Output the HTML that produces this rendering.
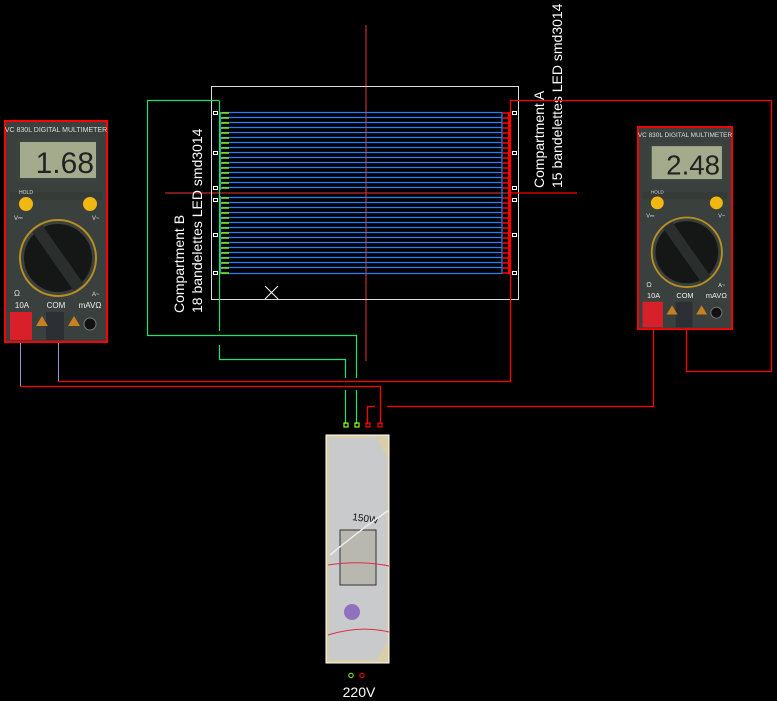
<!DOCTYPE html>
<html><head><meta charset="utf-8"><style>
html,body{margin:0;padding:0;background:#000;width:777px;height:701px;overflow:hidden}
svg{display:block}
text{font-family:"Liberation Sans",sans-serif}
</style></head><body>
<svg width="777" height="701" viewBox="0 0 777 701" xmlns="http://www.w3.org/2000/svg">
<defs>
<g id="meter">
  <rect x="1" y="1" width="102" height="221" fill="#3a403d" stroke="#f00" stroke-width="2"/>
  <text x="52" y="12" font-size="7" fill="#ddd" text-anchor="middle">VC 830L DIGITAL MULTIMETER</text>
  <rect x="12" y="18" width="82" height="44" fill="#3c433e"/>
  <rect x="16" y="22" width="76" height="36" fill="#a4ab8c"/>
  <rect x="6" y="72" width="92" height="8" fill="#363b38"/>
  <circle cx="22" cy="84" r="7" fill="#f0b810"/>
  <circle cx="86" cy="84" r="7" fill="#f0b810"/>
  <text x="22" y="74" font-size="5" fill="#ddd" text-anchor="middle">HOLD</text>
  <circle cx="54" cy="138" r="38" fill="none" stroke="#b89020" stroke-width="2"/>
  <circle cx="54" cy="138" r="34" fill="#151717"/>
  <rect x="48" y="102" width="12" height="72" fill="#2a2e2c" transform="rotate(-35 54 138)"/>
  <text x="10" y="100" font-size="6" fill="#ddd">V⎓</text>
  <text x="88" y="100" font-size="6" fill="#ddd">V~</text>
  <text x="10" y="176" font-size="8" fill="#ddd">Ω</text>
  <text x="88" y="176" font-size="6" fill="#ddd">A~</text>
  <text x="18" y="188" font-size="8" fill="#eee" text-anchor="middle">10A</text>
  <text x="52" y="188" font-size="8" fill="#eee" text-anchor="middle">COM</text>
  <text x="86" y="188" font-size="8" fill="#eee" text-anchor="middle">mAVΩ</text>
  <rect x="6" y="192" width="22" height="28" fill="#d8202a"/>
  <rect x="42" y="192" width="18" height="28" fill="#2c3034"/>
  <polygon points="32,206 38,196 44,206" fill="#c98020"/>
  <polygon points="64,206 70,196 76,206" fill="#c98020"/>
  <circle cx="86" cy="204" r="6" fill="#111" stroke="#777"/>
</g>
</defs>

<g transform="translate(4,120)">
  <use href="#meter"/>
  <text x="90" y="53" font-size="30" fill="#222" text-anchor="end">1.68</text>
</g>
<g transform="translate(637,126) scale(0.923,0.915)">
  <use href="#meter"/>
  <text x="90" y="53" font-size="30" fill="#222" text-anchor="end">2.48</text>
</g>

<line x1="366" y1="25" x2="366" y2="361" stroke="#e33" stroke-width="1"/>
<line x1="165" y1="193" x2="577" y2="193" stroke="#e33" stroke-width="1"/>

<rect x="211.5" y="86.5" width="307" height="213" fill="none" stroke="#ddd" stroke-width="1"/>
<g stroke="#1e82ff" stroke-width="1.3">
<line x1="222" y1="112.5" x2="502" y2="112.5"/><line x1="222" y1="117.5" x2="502" y2="117.5"/><line x1="222" y1="122.5" x2="502" y2="122.5"/><line x1="222" y1="127.5" x2="502" y2="127.5"/><line x1="222" y1="132.5" x2="502" y2="132.5"/><line x1="222" y1="137.5" x2="502" y2="137.5"/><line x1="222" y1="142.5" x2="502" y2="142.5"/><line x1="222" y1="147.5" x2="502" y2="147.5"/><line x1="222" y1="152.5" x2="502" y2="152.5"/><line x1="222" y1="157.5" x2="502" y2="157.5"/><line x1="222" y1="162.5" x2="502" y2="162.5"/><line x1="222" y1="167.5" x2="502" y2="167.5"/><line x1="222" y1="172.5" x2="502" y2="172.5"/><line x1="222" y1="177.5" x2="502" y2="177.5"/><line x1="222" y1="182.5" x2="502" y2="182.5"/><line x1="222" y1="187.5" x2="502" y2="187.5"/><line x1="222" y1="197.5" x2="502" y2="197.5"/><line x1="222" y1="202.5" x2="502" y2="202.5"/><line x1="222" y1="207.5" x2="502" y2="207.5"/><line x1="222" y1="212.5" x2="502" y2="212.5"/><line x1="222" y1="217.5" x2="502" y2="217.5"/><line x1="222" y1="222.5" x2="502" y2="222.5"/><line x1="222" y1="227.5" x2="502" y2="227.5"/><line x1="222" y1="232.5" x2="502" y2="232.5"/><line x1="222" y1="237.5" x2="502" y2="237.5"/><line x1="222" y1="242.5" x2="502" y2="242.5"/><line x1="222" y1="247.5" x2="502" y2="247.5"/><line x1="222" y1="252.5" x2="502" y2="252.5"/><line x1="222" y1="257.5" x2="502" y2="257.5"/><line x1="222" y1="262.5" x2="502" y2="262.5"/><line x1="222" y1="267.5" x2="502" y2="267.5"/><line x1="222" y1="273.5" x2="502" y2="273.5"/>
<line x1="502" y1="112" x2="502" y2="274"/>
</g>
<line x1="220" y1="112" x2="220" y2="190" stroke="#1aa0e0" stroke-width="2"/>
<line x1="220" y1="196" x2="220" y2="274" stroke="#1aa0e0" stroke-width="2"/>
<g stroke="#88f000" stroke-width="1.5">
<line x1="221" y1="113" x2="229" y2="113"/><line x1="221" y1="118" x2="229" y2="118"/><line x1="221" y1="123" x2="229" y2="123"/><line x1="221" y1="128" x2="229" y2="128"/><line x1="221" y1="133" x2="229" y2="133"/><line x1="221" y1="138" x2="229" y2="138"/><line x1="221" y1="143" x2="229" y2="143"/><line x1="221" y1="148" x2="229" y2="148"/><line x1="221" y1="153" x2="229" y2="153"/><line x1="221" y1="158" x2="229" y2="158"/><line x1="221" y1="163" x2="229" y2="163"/><line x1="221" y1="168" x2="229" y2="168"/><line x1="221" y1="173" x2="229" y2="173"/><line x1="221" y1="178" x2="229" y2="178"/><line x1="221" y1="183" x2="229" y2="183"/><line x1="221" y1="188" x2="229" y2="188"/><line x1="221" y1="198" x2="229" y2="198"/><line x1="221" y1="203" x2="229" y2="203"/><line x1="221" y1="208" x2="229" y2="208"/><line x1="221" y1="213" x2="229" y2="213"/><line x1="221" y1="218" x2="229" y2="218"/><line x1="221" y1="223" x2="229" y2="223"/><line x1="221" y1="228" x2="229" y2="228"/><line x1="221" y1="233" x2="229" y2="233"/><line x1="221" y1="238" x2="229" y2="238"/><line x1="221" y1="243" x2="229" y2="243"/><line x1="221" y1="248" x2="229" y2="248"/><line x1="221" y1="253" x2="229" y2="253"/><line x1="221" y1="258" x2="229" y2="258"/><line x1="221" y1="263" x2="229" y2="263"/><line x1="221" y1="268" x2="229" y2="268"/><line x1="221" y1="273" x2="229" y2="273"/>
</g>
<g stroke="#f00" stroke-width="1.5">
<line x1="502" y1="113" x2="510" y2="113"/><line x1="502" y1="118" x2="510" y2="118"/><line x1="502" y1="123" x2="510" y2="123"/><line x1="502" y1="128" x2="510" y2="128"/><line x1="502" y1="133" x2="510" y2="133"/><line x1="502" y1="138" x2="510" y2="138"/><line x1="502" y1="143" x2="510" y2="143"/><line x1="502" y1="148" x2="510" y2="148"/><line x1="502" y1="153" x2="510" y2="153"/><line x1="502" y1="158" x2="510" y2="158"/><line x1="502" y1="163" x2="510" y2="163"/><line x1="502" y1="168" x2="510" y2="168"/><line x1="502" y1="173" x2="510" y2="173"/><line x1="502" y1="178" x2="510" y2="178"/><line x1="502" y1="183" x2="510" y2="183"/><line x1="502" y1="188" x2="510" y2="188"/><line x1="502" y1="198" x2="510" y2="198"/><line x1="502" y1="203" x2="510" y2="203"/><line x1="502" y1="208" x2="510" y2="208"/><line x1="502" y1="213" x2="510" y2="213"/><line x1="502" y1="218" x2="510" y2="218"/><line x1="502" y1="223" x2="510" y2="223"/><line x1="502" y1="228" x2="510" y2="228"/><line x1="502" y1="233" x2="510" y2="233"/><line x1="502" y1="238" x2="510" y2="238"/><line x1="502" y1="243" x2="510" y2="243"/><line x1="502" y1="248" x2="510" y2="248"/><line x1="502" y1="253" x2="510" y2="253"/><line x1="502" y1="258" x2="510" y2="258"/><line x1="502" y1="263" x2="510" y2="263"/><line x1="502" y1="268" x2="510" y2="268"/><line x1="502" y1="273" x2="510" y2="273"/>
<line x1="509" y1="112" x2="509" y2="274" stroke-width="2"/>
</g>
<g fill="#000" stroke="#fff" stroke-width="1">
<rect x="213.5" y="111.5" width="4" height="3"/><rect x="213.5" y="151.5" width="4" height="3"/><rect x="213.5" y="186.5" width="4" height="3"/><rect x="213.5" y="198.5" width="4" height="3"/><rect x="213.5" y="233.5" width="4" height="3"/><rect x="213.5" y="271.5" width="4" height="3"/>
<rect x="512.5" y="111.5" width="4" height="3"/><rect x="512.5" y="151.5" width="4" height="3"/><rect x="512.5" y="186.5" width="4" height="3"/><rect x="512.5" y="198.5" width="4" height="3"/><rect x="512.5" y="233.5" width="4" height="3"/><rect x="512.5" y="271.5" width="4" height="3"/>
</g>
<line x1="265" y1="286" x2="278" y2="299" stroke="#fff"/><line x1="278" y1="286" x2="265" y2="299" stroke="#fff"/>

<text transform="translate(184,313) rotate(-90)" font-size="14" fill="#fff">Compartment B</text>
<text transform="translate(202,313) rotate(-90)" font-size="14" fill="#fff">18 bandelettes LED smd3014</text>
<text transform="translate(544,188) rotate(-90)" font-size="14" fill="#fff">Compartment A</text>
<text transform="translate(562,188) rotate(-90)" font-size="14" fill="#fff">15 bandelettes LED smd3014</text>

<g fill="none" stroke="#20e070" stroke-width="1.2">
<polyline points="219.5,100.5 147.5,100.5 147.5,335.5 356.5,335.5 356.5,378"/>
<line x1="356.5" y1="390" x2="356.5" y2="424"/>
<line x1="219.5" y1="101" x2="219.5" y2="331"/>
<polyline points="219.5,345 219.5,359.5 345.5,359.5 345.5,378"/>
<line x1="345.5" y1="390" x2="345.5" y2="424"/>
</g>
<g fill="none" stroke="#f00" stroke-width="1.3">
<polyline points="58,381.5 510.5,381.5 510.5,100.5 771.5,100.5 771.5,371.5 686.5,371.5 686.5,330"/>
<polyline points="20,386.5 380.5,386.5 380.5,424"/>
<polyline points="367.5,424 367.5,406.5 375,406.5"/>
<polyline points="387,406.5 653.5,406.5 653.5,330"/>
<line x1="511" y1="193" x2="577" y2="193"/>
</g>
<g stroke="#a090c8" stroke-width="1" fill="none">
<line x1="20.5" y1="343" x2="20.5" y2="386"/>
<line x1="58.5" y1="343" x2="58.5" y2="381"/>
</g>
<g fill="none" stroke-width="1.2">
<rect x="344" y="423" width="4" height="4" stroke="#9f0"/>
<rect x="355" y="423" width="4" height="4" stroke="#9f0"/>
<rect x="366" y="423" width="4" height="4" stroke="#f00"/>
<rect x="378" y="423" width="4" height="4" stroke="#f00"/>
</g>

<rect x="326" y="435" width="63" height="228" fill="#d8cfa8" stroke="#fff" stroke-width="1"/>
<polygon points="329,438 377,438 387,458 387,642 377,660 329,660" fill="#c8cacc"/>
<text x="352" y="520" font-size="10" fill="#111" transform="rotate(8 352 520)">150W</text>
<rect x="340" y="530" width="36" height="55" fill="#b8b8b0" stroke="#333"/>
<path d="M328,565 Q360,560 389,566" stroke="#e03040" fill="none"/>
<path d="M328,635 Q360,625 389,632" stroke="#e03040" fill="none"/>
<path d="M330,555 Q360,530 389,510" stroke="#eee" fill="none" stroke-width="1.5"/>
<circle cx="352" cy="612" r="8" fill="#9070c0"/>
<circle cx="351" cy="675.5" r="2.2" fill="none" stroke="#9f0"/>
<circle cx="362" cy="675.5" r="2.2" fill="none" stroke="#f00"/>
<text x="359" y="697" font-size="14" fill="#fff" text-anchor="middle">220V</text>
</svg>
</body></html>
